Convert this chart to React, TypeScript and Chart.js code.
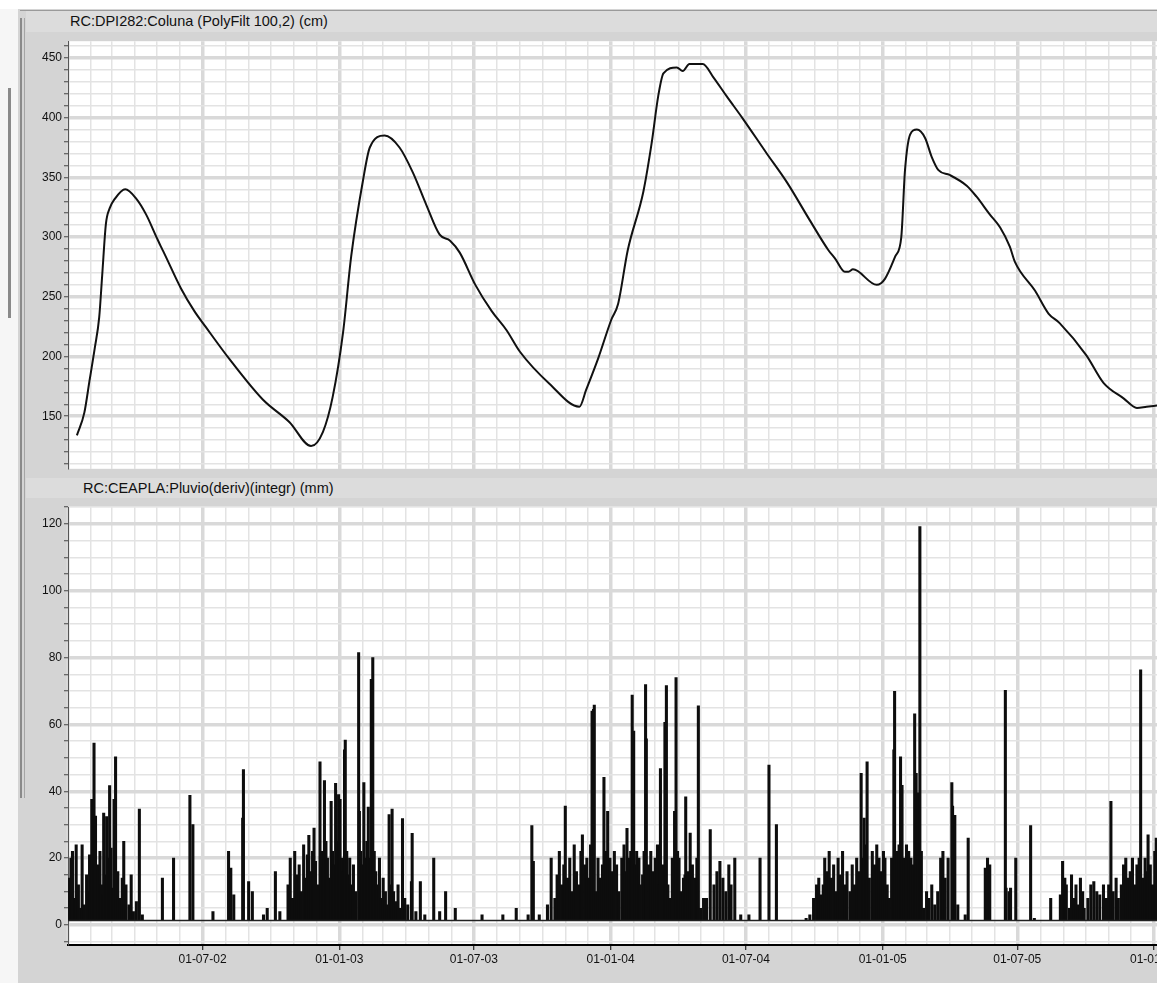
import React, { useEffect, useRef } from "react";
import { Chart, registerables } from "chart.js";

Chart.register(...registerables);

const FONT = '"Liberation Sans", Arial, Helvetica, sans-serif';

// ---------- DATA ----------
// x axis: days since 01-01-2002
const xMinDay = 0;
const xMaxDay = 1465;

const colunaTitle = "RC:DPI282:Coluna (PolyFilt 100,2) (cm)";
const pluvioTitle = "RC:CEAPLA:Pluvio(deriv)(integr) (mm)";

const halfYearDays = [181, 365, 546, 730, 912, 1096, 1277, 1461];
const halfYearLabels = ["01-07-02", "01-01-03", "01-07-03", "01-01-04", "01-07-04", "01-01-05", "01-07-05", "01-01-06"];

// Water column (cm) — day, value
const colunaDays = [
  12, 22, 29, 36, 42, 46, 51, 56, 63, 77, 92, 105, 119, 125, 129, 152, 170, 185, 217, 262, 298, 327,
  343, 356, 370, 381, 397, 406, 426, 446, 464, 482, 500, 514, 527, 548, 570, 590, 608, 648, 688,
  697, 713, 731, 740, 753, 774, 785, 794, 801, 819, 827, 836, 854, 868, 886, 908, 940, 967, 998,
  1023, 1032, 1045, 1050, 1056, 1088, 1099, 1113, 1121, 1126, 1133, 1142, 1153, 1162, 1171, 1186,
  1209, 1222, 1240, 1254, 1267, 1274, 1301, 1319, 1334, 1370, 1393, 1420, 1438, 1451, 1465,
];
const colunaCm = [
  134, 153, 180, 207, 233, 268, 311, 324, 332, 340, 332, 319, 300, 292, 287, 257, 238, 225, 198, 164, 145, 125,
  137, 166, 220, 284, 348, 375, 385, 375, 354, 327, 302, 297, 287, 260, 238, 222, 204, 177, 158,
  172, 198, 231, 244, 289, 338, 378, 418, 437, 442, 439, 445, 445, 434, 418, 399, 370, 346, 314,
  289, 282, 271, 271, 273, 260, 265, 284, 300, 356, 386, 390, 383, 367, 356, 352,
  343, 334, 319, 308, 292, 279, 255, 236, 228, 201, 178, 165, 157, 158, 159,
];

// Rainfall (mm) — [day, mm]
const rainWet2002: [number, number][] = [
  [2, 14], [4, 20], [6, 22], [9, 8], [11, 24], [14, 12], [17, 5], [19, 24], [22, 6], [25, 15],
  [27, 10], [29, 21], [32, 37.6], [35, 54.4], [37, 32.6], [40, 18], [43, 22], [45, 12], [47, 9], [48, 33.5],
  [51, 15], [52, 32.4], [55, 20], [56, 41.7], [58, 23], [60, 11], [62, 37.6], [64, 50.3], [67, 16], [70, 8],
  [73, 14], [75, 25], [78, 12], [82, 6], [85, 15], [88, 4], [92, 7], [96, 34.7], [100, 3],
];
const rainDry2002: [number, number][] = [
  [127, 14], [142, 20], [164, 38.8], [168, 30], [195, 4], [216, 22], [219, 17], [223, 9], [235, 32],
  [236, 46.5], [243, 13], [248, 10], [263, 3], [268, 5], [279, 16], [285, 4],
];
const rainWet2003: [number, number][] = [
  [296, 12], [299, 20], [302, 8], [305, 22], [308, 15], [311, 18], [314, 10], [317, 24], [320, 14], [322, 21],
  [324, 26.8], [327, 16], [329, 22], [331, 29], [333, 19], [336, 12], [339, 48.8], [341, 22], [343, 17], [345, 43.2],
  [347, 25], [349, 20], [351, 14], [354, 37], [356, 22], [358, 18], [360, 42.4], [362, 25], [364, 39], [366, 37.6],
  [368, 20], [370, 16], [372, 52.4], [373, 55.3], [375, 22], [377, 15], [379, 20], [381, 12], [384, 18], [387, 10],
  [391, 81.5], [392, 34], [394, 22], [396, 18], [398, 42.6], [400, 20], [402, 25], [404, 35.3], [406, 20], [408, 73.5],
  [410, 80], [412, 22], [414, 16], [416, 12], [419, 20], [421, 8], [424, 14], [427, 10], [429, 6], [432, 33],
  [434, 12], [436, 34.7], [438, 10], [441, 7], [444, 12], [446, 5], [449, 5], [450, 31.8], [453, 8], [457, 6],
  [462, 13], [463, 27.4], [468, 4], [474, 13], [480, 3], [492, 20], [500, 4], [508, 10], [521, 5],
];
const rainDry2003: [number, number][] = [
  [557, 3], [585, 3], [603, 5], [619, 3], [624, 29.7], [626, 19], [634, 3],
];
const rainWet2004: [number, number][] = [
  [645, 6], [650, 20], [655, 8], [658, 15], [661, 22], [664, 12], [667, 18], [669, 35.6], [672, 14], [675, 20],
  [678, 10], [681, 24], [684, 16], [687, 12], [690, 22], [692, 27], [695, 18], [698, 20], [701, 14], [703, 24],
  [705, 64], [707, 64.5], [708, 65.8], [710, 10], [713, 20], [716, 14], [719, 18], [721, 44.2], [724, 22], [726, 34],
  [729, 20], [732, 16], [735, 22], [738, 18], [741, 10], [745, 20], [748, 24], [750, 16], [752, 28.9], [755, 20],
  [757, 22], [759, 68.8], [761, 58], [763, 18], [765, 22], [768, 20], [770, 12], [773, 15], [775, 22], [777, 71.9],
  [778, 55.7], [781, 18], [784, 22], [787, 16], [790, 20], [793, 24], [795, 12], [797, 46.8], [800, 18], [803, 60.6],
  [805, 71.6], [807, 12], [810, 8], [813, 20], [816, 34], [818, 74], [820, 22], [822, 20], [825, 10], [828, 14],
  [830, 15], [831, 38.3], [834, 16], [837, 27.5], [840, 18], [843, 14], [846, 20], [848, 65.6], [851, 5], [855, 8],
  [859, 8], [864, 28.5], [869, 12], [873, 16], [877, 19], [881, 14], [885, 10], [889, 18], [892, 12], [897, 20],
  [905, 3], [916, 3], [931, 20], [943, 47.8], [953, 30],
];
const rainDry2004: [number, number][] = [
  [993, 2], [998, 3], [1003, 8], [1007, 12], [1010, 14], [1013, 9],
];
const rainWet2005: [number, number][] = [
  [1016, 12], [1018, 20], [1021, 16], [1024, 22], [1027, 14], [1030, 18], [1033, 10], [1036, 20], [1039, 15], [1042, 22],
  [1045, 12], [1048, 16], [1052, 10], [1055, 18], [1058, 12], [1061, 20], [1064, 16], [1067, 45.4], [1069, 20], [1071, 32],
  [1073, 24], [1075, 48.8], [1078, 14], [1082, 22], [1085, 18], [1088, 24], [1091, 20], [1094, 16], [1097, 22], [1099, 20],
  [1102, 12], [1105, 8], [1108, 20], [1111, 52.4], [1112, 69.9], [1115, 22], [1118, 24], [1120, 50.3], [1122, 41.8], [1125, 20],
  [1128, 24], [1131, 22], [1134, 20], [1137, 18], [1139, 63.2], [1141, 45.4], [1143, 39.5], [1146, 119.2], [1148, 22], [1151, 5],
  [1155, 10], [1158, 8], [1162, 12], [1166, 6], [1170, 10], [1174, 20], [1177, 22], [1180, 14], [1184, 20], [1189, 42.6],
  [1190, 35.6], [1193, 32.8], [1197, 6], [1207, 3], [1211, 26],
];
const rainDry2005: [number, number][] = [
  [1234, 17], [1237, 20], [1240, 18], [1261, 70.2], [1262, 11], [1266, 10], [1268, 11], [1275, 20], [1295, 29.7], [1300, 2], [1322, 8],
];
const rainWet2006: [number, number][] = [
  [1335, 9], [1338, 19], [1341, 14], [1343, 12], [1347, 5], [1350, 15], [1353, 8], [1356, 12], [1359, 6], [1362, 14],
  [1365, 10], [1367, 5], [1372, 8], [1376, 12], [1380, 13], [1384, 10], [1388, 9], [1393, 12], [1397, 8], [1400, 12],
  [1403, 37], [1406, 10], [1410, 14], [1413, 8], [1417, 12], [1420, 18], [1423, 20], [1426, 14], [1429, 16], [1432, 20],
  [1435, 12], [1438, 18], [1441, 20], [1443, 76.3], [1446, 14], [1449, 20], [1451, 16], [1453, 27], [1456, 18], [1459, 12],
  [1462, 22], [1464, 26],
];
const pluvioBase = 1.3;

const colunaY = { min: 106, max: 464, step: 10, labelStep: 50 };
const pluvioY = { min: -6, max: 125, step: 5, labelStep: 20 };

// ---------- helpers ----------
const startUTC = Date.UTC(2002, 0, 1);
const monthGridDays: number[] = [];
for (let y = 2002; y <= 2006; y++) {
  for (let m = 0; m < 12; m++) {
    const d = Math.round((Date.UTC(y, m, 1) - startUTC) / 86400000);
    if (d <= xMaxDay) monthGridDays.push(d);
  }
}
const isHalf = (v: number) => v === 0 || halfYearDays.includes(v);

const MINOR = "#e3e3e3";
const MAJOR = "#d9d9d9";

const plotBg = {
  id: "plotBg",
  beforeDraw(chart: any) {
    const { ctx, chartArea: a } = chart;
    ctx.save();
    ctx.fillStyle = "#ffffff";
    ctx.fillRect(a.left, a.top, a.right - a.left, a.bottom - a.top);
    ctx.restore();
  },
};

function xScale(showLabels: boolean): any {
  return {
    type: "linear",
    min: xMinDay,
    max: xMaxDay,
    offset: false,
    afterBuildTicks: (s: any) => {
      s.ticks = monthGridDays.map((v) => ({ value: v }));
    },
    afterFit: (s: any) => {
      s.paddingLeft = 0;
      s.paddingRight = 0;
      s.height = showLabels ? 38 : 0;
    },
    grid: {
      offset: false,
      color: (c: any) => (isHalf(c.tick?.value) ? MAJOR : MINOR),
      lineWidth: (c: any) => (isHalf(c.tick?.value) ? 3.5 : 1.5),
      drawTicks: showLabels,
      tickLength: 5,
      tickWidth: 1,
      tickColor: (c: any) => (halfYearDays.includes(c.tick?.value) ? "#000" : "rgba(0,0,0,0)"),
    },
    border: showLabels ? { display: true, color: "#000", width: 2 } : { display: false },
    ticks: {
      display: showLabels,
      autoSkip: false,
      maxRotation: 0,
      minRotation: 0,
      padding: 2,
      color: "#111",
      font: { family: FONT, size: 12 },
      callback: (v: any) => {
        const i = halfYearDays.indexOf(Number(v));
        return i >= 0 ? halfYearLabels[i] : "";
      },
    },
  };
}

function yScale(cfg: { min: number; max: number; step: number; labelStep: number }): any {
  return {
    type: "linear",
    min: cfg.min,
    max: cfg.max,
    afterBuildTicks: (s: any) => {
      const t: any[] = [];
      for (let v = Math.ceil(cfg.min / cfg.step) * cfg.step; v <= cfg.max; v += cfg.step) t.push({ value: v });
      s.ticks = t;
    },
    afterFit: (s: any) => {
      s.width = 48;
    },
    grid: {
      color: (c: any) => (c.tick && c.tick.value % cfg.labelStep === 0 ? MAJOR : MINOR),
      lineWidth: (c: any) => (c.tick && c.tick.value % cfg.labelStep === 0 ? 3.5 : 1.5),
      drawTicks: true,
      tickLength: 4,
      tickWidth: 1,
      tickColor: "#444",
    },
    border: { display: true, color: "#555", width: 1 },
    ticks: {
      autoSkip: false,
      padding: 2,
      color: "#111",
      font: { family: FONT, size: 12 },
      callback: (v: any) => (Number(v) % cfg.labelStep === 0 ? String(v) : ""),
    },
  };
}

function ChartBox({ make, style }: { make: () => any; style: React.CSSProperties }) {
  const ref = useRef<HTMLCanvasElement | null>(null);
  useEffect(() => {
    if (!ref.current) return;
    const chart = new Chart(ref.current, make());
    return () => chart.destroy();
  }, []);
  return (
    <div style={{ position: "absolute", ...style }}>
      <canvas ref={ref} />
    </div>
  );
}

function colunaConfig(): any {
  return {
    type: "line",
    data: {
      datasets: [
        {
          data: colunaDays.map((d, i) => ({ x: d, y: colunaCm[i] })),
          borderColor: "#111",
          borderWidth: 2,
          pointRadius: 0,
          cubicInterpolationMode: "monotone",
          fill: false,
        },
      ],
    },
    options: {
      responsive: true,
      maintainAspectRatio: false,
      animation: false,
      layout: { padding: { top: 1, right: 0, bottom: 0, left: 0 } },
      plugins: { legend: { display: false }, tooltip: { enabled: false }, title: { display: false } },
      scales: { x: xScale(false), y: yScale(colunaY) },
    },
    plugins: [plotBg],
  };
}

function pluvioConfig(): any {
  const rain = [
    ...rainWet2002, ...rainDry2002, ...rainWet2003, ...rainDry2003,
    ...rainWet2004, ...rainDry2004, ...rainWet2005, ...rainDry2005, ...rainWet2006,
  ];
  return {
    type: "bar",
    data: {
      datasets: [
        {
          type: "bar",
          data: rain.map(([d, v]) => ({ x: d, y: v })),
          backgroundColor: "#0d0d0d",
          borderWidth: 0,
          barThickness: 2.4,
          grouped: false,
          base: pluvioBase,
          order: 2,
        },
        {
          type: "line",
          data: [
            { x: xMinDay, y: pluvioBase },
            { x: xMaxDay, y: pluvioBase },
          ],
          borderColor: "#222",
          borderWidth: 1.5,
          pointRadius: 0,
          order: 1,
        },
      ],
    },
    options: {
      responsive: true,
      maintainAspectRatio: false,
      animation: false,
      layout: { padding: { top: 2, right: 0, bottom: 0, left: 0 } },
      plugins: { legend: { display: false }, tooltip: { enabled: false }, title: { display: false } },
      scales: { x: xScale(true), y: yScale(pluvioY) },
    },
    plugins: [plotBg],
  };
}

export default function App() {
  const header: React.CSSProperties = {
    position: "absolute",
    background: "#dcdcdc",
    color: "#111",
    fontFamily: FONT,
    fontSize: 14.5,
    whiteSpace: "nowrap",
    boxSizing: "border-box",
  };
  return (
    <div
      style={{
        position: "absolute",
        left: 0,
        top: 0,
        width: 1157,
        height: 983,
        background: "#d4d4d4",
        overflow: "hidden",
        fontFamily: FONT,
      }}
    >
      <div style={{ position: "absolute", left: 0, top: 0, width: 18, height: 983, background: "#f6f6f6" }} />
      <div style={{ position: "absolute", left: 0, top: 0, width: 1157, height: 9, background: "#ffffff" }} />
      <div style={{ position: "absolute", left: 8, top: 88, width: 3, height: 230, background: "#8a8a8a" }} />
      <div style={{ position: "absolute", left: 20, top: 18, width: 2, height: 780, background: "#8a8a8a" }} />
      <div style={{ position: "absolute", left: 24, top: 18, width: 1, height: 780, background: "#a5a5a5" }} />
      <div style={{ position: "absolute", left: 20, top: 10, width: 1137, height: 1, background: "#9a9a9a" }} />

      <div style={{ ...header, left: 26, top: 11, width: 1131, height: 21, lineHeight: "21px", paddingLeft: 44 }}>
        {colunaTitle}
      </div>
      <ChartBox make={colunaConfig} style={{ left: 20, top: 32, width: 1137, height: 446 }} />

      <div style={{ ...header, left: 26, top: 478, width: 1131, height: 20, lineHeight: "20px", paddingLeft: 57 }}>
        {pluvioTitle}
      </div>
      <ChartBox make={pluvioConfig} style={{ left: 20, top: 498, width: 1137, height: 485 }} />
    </div>
  );
}
